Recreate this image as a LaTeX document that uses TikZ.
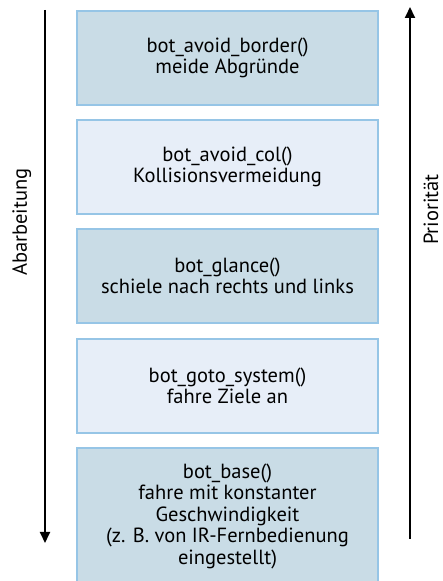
\documentclass[tikz,border=0pt]{standalone}
\usepackage{fontspec}
\setmainfont{PT Sans}
\usetikzlibrary{arrows.meta}
\definecolor{boxdark}{RGB}{201,220,230}
\definecolor{boxlight}{RGB}{231,238,248}
\definecolor{boxline}{RGB}{150,197,230}
\tikzset{
  layer/.style={draw=boxline, line width=1.6pt, minimum width=301pt, minimum height=94pt,
    align=center, font=\fontsize{20.5}{21.5}\selectfont, inner sep=0pt},
  darklayer/.style={layer, fill=boxdark},
  lightlayer/.style={layer, fill=boxlight},
  flow/.style={line width=1.8pt, -{Triangle[length=11pt,width=10pt]}},
  sidelabel/.style={rotate=90, anchor=base, inner sep=0pt, font=\fontsize{20.5}{21}\selectfont}
}
\begin{document}
\begin{tikzpicture}[x=1pt,y=1pt]
\useasboundingbox (0,0) rectangle (443,581);
\node[darklayer] (b1) at (227.5,523) {bot\_avoid\_border()\\meide Abgründe};
\node[lightlayer] (b2) at (227.5,414) {bot\_avoid\_col()\\Kollisionsvermeidung};
\node[darklayer] (b3) at (227.5,305) {bot\_glance()\\schiele nach rechts und links};
\node[lightlayer] (b4) at (227.5,195) {bot\_goto\_system()\\fahre Ziele an};
\node[darklayer, minimum height=136pt] (b5) at (227.5,65) {bot\_base()\\fahre mit konstanter\\Geschwindigkeit\\(z. B. von IR-Fernbedienung\\eingestellt)};
\coordinate (ls) at (45,571);
\coordinate (le) at (45,38);
\coordinate (rs) at (410,42);
\coordinate (re) at (410,574);
\draw[flow] (ls) -- (le);
\draw[flow] (rs) -- (re);
\node[sidelabel] (abl) at (27,359) {Abarbeitung};
\node[sidelabel] (prl) at (438,371.5) {Priorität};
\end{tikzpicture}
\end{document}
